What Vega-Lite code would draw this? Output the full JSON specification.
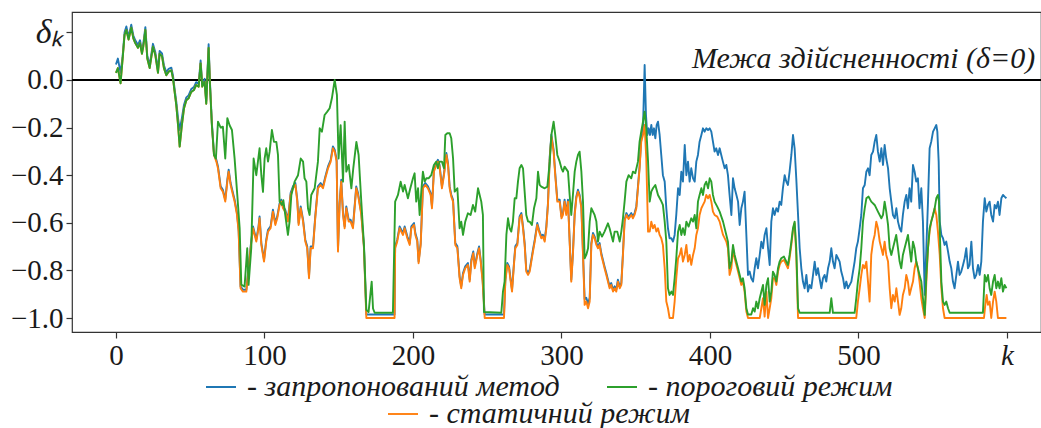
{
"$schema": "https://vega.github.io/schema/vega-lite/v6.json",
"width": 969, "height": 320,
"autosize": {"type": "none"},
"padding": {"left": 72, "top": 12, "right": 0, "bottom": 96},
"config": {
 "view": {"stroke": "#333", "strokeWidth": 1.2},
 "font": "Liberation Serif",
 "axis": {"grid": false, "domain": false, "tickColor": "#333", "tickSize": 6, "tickWidth": 1.2, "labelFont": "Liberation Serif", "labelFontSize": 29, "labelColor": "#1a1a1a", "title": null}
},
"datasets": {
"blue": [
{"k":0,"v":0.065},{"k":1.3,"v":0.09},{"k":3.1,"v":0.03},{"k":4.5,"v":0.1},{"k":5.8,"v":0.2},{"k":7,"v":0.225},{"k":8.5,"v":0.18},{"k":10.3,"v":0.232},{"k":11.7,"v":0.187},{"k":13,"v":0.167},{"k":14.8,"v":0.147},{"k":16.2,"v":0.167},{"k":17.5,"v":0.122},{"k":18.4,"v":0.152},{"k":19.8,"v":0.222},{"k":21.1,"v":0.102},{"k":22.7,"v":0.062},{"k":24.9,"v":0.152},{"k":26.5,"v":0.117},{"k":28.3,"v":0.042},{"k":29.4,"v":0.122},{"k":31,"v":0.112},{"k":32.3,"v":0.062},{"k":33.9,"v":0.032},{"k":35.5,"v":0.047},{"k":37.3,"v":0.052},{"k":38.4,"v":0.019},{"k":39.5,"v":-0.038},{"k":40.6,"v":-0.09},{"k":41.8,"v":-0.16},{"k":42.9,"v":-0.21},{"k":44.4,"v":-0.16},{"k":45.8,"v":-0.105},{"k":47.4,"v":-0.073},{"k":48.9,"v":-0.065},{"k":50.7,"v":-0.038},{"k":52.5,"v":-0.03},{"k":54,"v":-0.009},{"k":55.7,"v":-0.016},{"k":57,"v":0.082},{"k":58.1,"v":-0.016},{"k":59.7,"v":0.005},{"k":60.8,"v":-0.088},{"k":62.4,"v":0.15},{"k":63.3,"v":-0.008},
{"k":64.6,"v":-0.182},{"k":66,"v":-0.307},{"k":67.6,"v":-0.335},{"k":68.7,"v":-0.363},{"k":70.5,"v":-0.447},{"k":72,"v":-0.461},{"k":73.6,"v":-0.503},{"k":75,"v":-0.419},{"k":75.9,"v":-0.377},{"k":77.2,"v":-0.433},{"k":78.8,"v":-0.475},{"k":79.9,"v":-0.503},{"k":81.5,"v":-0.559},{"k":82.6,"v":-0.629},{"k":83.9,"v":-0.867},{"k":85.5,"v":-0.881},{"k":87.8,"v":-0.881},{"k":88.9,"v":-0.811},{"k":90.7,"v":-0.699},{"k":92.3,"v":-0.615},{"k":94.5,"v":-0.671},{"k":96,"v":-0.615},{"k":96.7,"v":-0.573},{"k":97.9,"v":-0.685},{"k":99.7,"v":-0.755},{"k":101.2,"v":-0.671},{"k":102.4,"v":-0.629},{"k":104.1,"v":-0.615},{"k":105.7,"v":-0.545},{"k":107.3,"v":-0.601},{"k":108.6,"v":-0.573},{"k":110.2,"v":-0.517},{"k":111.3,"v":-0.503},{"k":112.5,"v":-0.531},{"k":114,"v":-0.545},{"k":115.8,"v":-0.587},{"k":117.6,"v":-0.475},{"k":119.2,"v":-0.447},{"k":120.8,"v":-0.433},{"k":122.1,"v":-0.503},{"k":123,"v":-0.601},{"k":124.4,"v":-0.531},{"k":126,"v":-0.587},{"k":127.5,"v":-0.671},{"k":128.8,"v":-0.699},{"k":130,"v":-0.825},{"k":131.1,"v":-0.699},{"k":132.7,"v":-0.699},{"k":134.2,"v":-0.573},{"k":136,"v":-0.447},{"k":137.8,"v":-0.433},{"k":139.4,"v":-0.447},{"k":141,"v":-0.405},{"k":142.8,"v":-0.363},{"k":144.6,"v":-0.335},{"k":146.1,"v":-0.279},{"k":147.3,"v":-0.293},{"k":148.6,"v":-0.335},{"k":149.5,"v":-0.713},{"k":150.6,"v":-0.517},{"k":151.7,"v":-0.419},{"k":152.9,"v":-0.559},{"k":154,"v":-0.615},{"k":155.1,"v":-0.531},{"k":156.7,"v":-0.587},{"k":158,"v":-0.587},{"k":159.6,"v":-0.615},{"k":161.8,"v":-0.447},{"k":163,"v":-0.475},{"k":165.2,"v":-0.559},{"k":167,"v":-0.699},{"k":168.6,"v":-0.985},{"k":187.6,"v":-0.985},{"k":188,"v":-0.699},{"k":189.4,"v":-0.671},{"k":191,"v":-0.615},{"k":192.1,"v":-0.629},{"k":193.3,"v":-0.643},{"k":194.4,"v":-0.615},{"k":196.2,"v":-0.657},{"k":197.8,"v":-0.685},{"k":198.9,"v":-0.615},{"k":200.7,"v":-0.601},{"k":201.6,"v":-0.643},{"k":202.9,"v":-0.671},{"k":203.8,"v":-0.762},{"k":205.2,"v":-0.685},{"k":206.7,"v":-0.447},{"k":208.3,"v":-0.433},{"k":210.1,"v":-0.447},{"k":211.9,"v":-0.475},{"k":212.8,"v":-0.531},{"k":214.1,"v":-0.377},{"k":215.7,"v":-0.349},{"k":216.8,"v":-0.335},{"k":217.9,"v":-0.356},{"k":219.5,"v":-0.447},{"k":220.9,"v":-0.392},{"k":222.5,"v":-0.307},{"k":223.6,"v":-0.349},{"k":224.7,"v":-0.447},{"k":225.8,"v":-0.482},{"k":227,"v":-0.503},{"k":228.5,"v":-0.685},{"k":229.9,"v":-0.699},{"k":231.4,"v":-0.825},{"k":232.5,"v":-0.867},{"k":233.7,"v":-0.811},{"k":235.2,"v":-0.783},{"k":237,"v":-0.769},{"k":238.2,"v":-0.839},{"k":239.3,"v":-0.755},{"k":240.6,"v":-0.72},{"k":241.6,"v":-0.783},{"k":243.4,"v":-0.727},{"k":244.5,"v":-0.699},{"k":245.6,"v":-0.755},{"k":246.9,"v":-0.839},{"k":248.3,"v":-0.985},{"k":261.3,"v":-0.985},{"k":262.2,"v":-0.839},{"k":263.5,"v":-0.769},{"k":264.7,"v":-0.783},{"k":265.8,"v":-0.839},{"k":266.7,"v":-0.881},{"k":268,"v":-0.769},{"k":268.9,"v":-0.699},{"k":270.3,"v":-0.685},{"k":271.8,"v":-0.573},{"k":273,"v":-0.559},{"k":274.1,"v":-0.615},{"k":275.2,"v":-0.685},{"k":276.3,"v":-0.797},{"k":277.5,"v":-0.811},{"k":278.6,"v":-0.797},{"k":279.7,"v":-0.755},{"k":280.8,"v":-0.713},{"k":282,"v":-0.671},{"k":283.7,"v":-0.601},{"k":284.9,"v":-0.629},{"k":286.4,"v":-0.657},{"k":287.5,"v":-0.65},{"k":288.7,"v":-0.671},{"k":289.8,"v":-0.615},{"k":290.9,"v":-0.517},{"k":292.1,"v":-0.322},{"k":293.2,"v":-0.23},{"k":294.7,"v":-0.293},{"k":295.8,"v":-0.392},{"k":297.2,"v":-0.503},{"k":298.8,"v":-0.503},{"k":300,"v":-0.573},{"k":301,"v":-0.559},{"k":302.1,"v":-0.503},{"k":303.2,"v":-0.559},{"k":304.4,"v":-0.503},{"k":305.5,"v":-0.671},{"k":306.6,"v":-0.839},{"k":307.7,"v":-0.727},{"k":308.9,"v":-0.559},{"k":310,"v":-0.489},{"k":311.1,"v":-0.461},{"k":312.2,"v":-0.482},{"k":313.4,"v":-0.531},{"k":314.5,"v":-0.727},{"k":315.6,"v":-0.92},{"k":316.7,"v":-0.915},{"k":317.9,"v":-0.94},{"k":319,"v":-0.915},{"k":320.1,"v":-0.685},{"k":321.2,"v":-0.643},{"k":322.3,"v":-0.657},{"k":323.5,"v":-0.685},{"k":324.6,"v":-0.699},{"k":325.7,"v":-0.685},{"k":326.8,"v":-0.727},{"k":327.9,"v":-0.755},{"k":329,"v":-0.783},{"k":330.2,"v":-0.811},{"k":331.3,"v":-0.839},{"k":332.4,"v":-0.867},{"k":333.5,"v":-0.853},{"k":334.7,"v":-0.881},{"k":335.8,"v":-0.867},{"k":336.9,"v":-0.881},{"k":338,"v":-0.839},{"k":339.2,"v":-0.867},{"k":340.3,"v":-0.853},{"k":341.4,"v":-0.727},{"k":342.5,"v":-0.587},{"k":343.7,"v":-0.559},{"k":345.2,"v":-0.576},{"k":347,"v":-0.559},{"k":348.1,"v":-0.573},{"k":349.2,"v":-0.559},{"k":350.4,"v":-0.531},{"k":351.5,"v":-0.447},{"k":352.6,"v":-0.363},{"k":353.7,"v":-0.25},{"k":354.9,"v":-0.2},{"k":356,"v":0.063},
{"k":356.9,"v":-0.147},{"k":357.8,"v":-0.231},{"k":358.7,"v":-0.203},{"k":359.6,"v":-0.231},{"k":360.5,"v":-0.189},{"k":361.4,"v":-0.231},{"k":362.3,"v":-0.203},{"k":363.2,"v":-0.245},{"k":364.1,"v":-0.189},{"k":365,"v":-0.175},{"k":366.1,"v":-0.231},{"k":367.2,"v":-0.315},{"k":368.3,"v":-0.4},{"k":369.5,"v":-0.427},{"k":370.6,"v":-0.539},{"k":371.7,"v":-0.623},{"k":372.8,"v":-0.665},{"k":374,"v":-0.665},{"k":375.1,"v":-0.679},{"k":376.2,"v":-0.651},{"k":377.3,"v":-0.567},{"k":378.5,"v":-0.455},{"k":379.6,"v":-0.483},{"k":380.7,"v":-0.385},{"k":381.8,"v":-0.427},{"k":383,"v":-0.273},{"k":384.1,"v":-0.4},{"k":385.2,"v":-0.343},{"k":386.3,"v":-0.427},{"k":387.4,"v":-0.371},{"k":388.6,"v":-0.413},{"k":389.7,"v":-0.427},{"k":390.8,"v":-0.343},{"k":391.9,"v":-0.315},{"k":393,"v":-0.259},{"k":394.2,"v":-0.231},{"k":395.3,"v":-0.203},{"k":396.4,"v":-0.217},{"k":397.5,"v":-0.203},
{"k":398.7,"v":-0.21},{"k":399.8,"v":-0.203},{"k":400.9,"v":-0.217},{"k":402,"v":-0.259},{"k":403.1,"v":-0.301},{"k":404.2,"v":-0.287},{"k":405.4,"v":-0.315},{"k":406.5,"v":-0.287},{"k":407.6,"v":-0.315},{"k":408.7,"v":-0.343},{"k":409.9,"v":-0.371},{"k":411,"v":-0.357},{"k":412.1,"v":-0.4},{"k":413.2,"v":-0.483},{"k":414.4,"v":-0.567},{"k":415.5,"v":-0.413},{"k":416.6,"v":-0.455},{"k":417.8,"v":-0.483},{"k":418.9,"v":-0.511},{"k":420,"v":-0.609},{"k":421.1,"v":-0.539},{"k":422.2,"v":-0.511},{"k":423.3,"v":-0.469},{"k":424.5,"v":-0.651},{"k":425.6,"v":-0.819},{"k":426.7,"v":-0.805},{"k":427.8,"v":-0.833},{"k":429,"v":-0.847},{"k":430.1,"v":-0.791},{"k":431.2,"v":-0.749},{"k":432.3,"v":-0.791},{"k":433.5,"v":-0.735},{"k":434.6,"v":-0.679},{"k":435.7,"v":-0.707},{"k":436.8,"v":-0.651},{"k":438,"v":-0.623},{"k":439.1,"v":-0.707},{"k":440.2,"v":-0.777},{"k":441.3,"v":-0.595},{"k":442.4,"v":-0.539},{"k":443.5,"v":-0.567},{"k":444.7,"v":-0.539},{"k":445.8,"v":-0.553},{"k":446.9,"v":-0.511},{"k":448,"v":-0.525},{"k":449.1,"v":-0.455},{"k":450.3,"v":-0.4},{"k":451.4,"v":-0.427},{"k":452.5,"v":-0.441},{"k":453.6,"v":-0.385},{"k":454.8,"v":-0.315},{"k":455.9,"v":-0.231},{"k":457,"v":-0.287},{"k":458.1,"v":-0.413},{"k":459.3,"v":-0.567},{"k":460.4,"v":-0.707},{"k":461.5,"v":-0.791},{"k":462.6,"v":-0.847},{"k":463.7,"v":-0.875},{"k":464.9,"v":-0.819},{"k":466,"v":-0.889},{"k":467.1,"v":-0.861},{"k":468.2,"v":-0.875},{"k":469.4,"v":-0.819},{"k":470.5,"v":-0.763},{"k":471.6,"v":-0.819},{"k":472.7,"v":-0.791},{"k":473.8,"v":-0.833},{"k":475,"v":-0.875},{"k":476.1,"v":-0.833},{"k":477.2,"v":-0.819},{"k":478.3,"v":-0.847},{"k":479.5,"v":-0.791},{"k":480.6,"v":-0.763},{"k":481.7,"v":-0.707},{"k":482.8,"v":-0.763},{"k":483.9,"v":-0.791},{"k":485.1,"v":-0.735},{"k":486.2,"v":-0.749},{"k":487.3,"v":-0.763},{"k":488.4,"v":-0.805},{"k":489.6,"v":-0.833},{"k":490.7,"v":-0.875},{"k":491.8,"v":-0.847},{"k":492.9,"v":-0.875},{"k":494.1,"v":-0.861},{"k":495.2,"v":-0.847},{"k":496.3,"v":-0.805},{"k":497.4,"v":-0.763},{"k":498.5,"v":-0.707},{"k":499.6,"v":-0.679},
{"k":500.8,"v":-0.623},{"k":501.9,"v":-0.567},{"k":503,"v":-0.455},{"k":504.2,"v":-0.441},{"k":505.3,"v":-0.385},{"k":506.4,"v":-0.371},{"k":507.5,"v":-0.4},{"k":508.6,"v":-0.315},{"k":509.8,"v":-0.301},{"k":510.9,"v":-0.259},{"k":512,"v":-0.231},{"k":513.1,"v":-0.301},{"k":514.3,"v":-0.343},{"k":515.4,"v":-0.287},{"k":516.5,"v":-0.357},{"k":517.6,"v":-0.273},{"k":518.7,"v":-0.33},{"k":519.9,"v":-0.371},{"k":521,"v":-0.455},{"k":522.1,"v":-0.511},{"k":523.2,"v":-0.567},{"k":524.4,"v":-0.581},{"k":525.5,"v":-0.539},{"k":526.6,"v":-0.595},{"k":527.7,"v":-0.623},{"k":528.8,"v":-0.637},{"k":529.9,"v":-0.567},{"k":531.1,"v":-0.511},{"k":532.2,"v":-0.483},{"k":533.3,"v":-0.539},{"k":534.4,"v":-0.455},{"k":535.5,"v":-0.511},{"k":536.7,"v":-0.357},{"k":537.8,"v":-0.385},{"k":538.9,"v":-0.427},{"k":540,"v":-0.413},{"k":541.1,"v":-0.539},{"k":542.3,"v":-0.455},{"k":543.4,"v":-0.595},{"k":544.6,"v":-0.903},{"k":545.7,"v":-0.707},{"k":546.8,"v":-0.511},{"k":547.9,"v":-0.287},{"k":549,"v":-0.259},{"k":550.2,"v":-0.217},{"k":551.3,"v":-0.203},{"k":552.4,"v":-0.189},{"k":553.1,"v":-0.217},{"k":554,"v":-0.343},{"k":554.7,"v":-0.595},{"k":555.8,"v":-0.651},{"k":556.9,"v":-0.665},{"k":558,"v":-0.693},{"k":559.1,"v":-0.679},{"k":560.3,"v":-0.721},{"k":561.4,"v":-0.763},{"k":562.5,"v":-0.791},{"k":563.6,"v":-0.847},{"k":564.7,"v":-0.875},{"k":565.9,"v":-0.819},{"k":567,"v":-0.763},{"k":568.1,"v":-0.819},{"k":569.2,"v":-0.805},{"k":570.4,"v":-0.777},{"k":571.5,"v":-0.749},{"k":572.6,"v":-0.707},{"k":573.7,"v":-0.791},{"k":574.8,"v":-0.777},{"k":576,"v":-0.679},{"k":577.1,"v":-0.791},{"k":578.2,"v":-0.833},{"k":579.3,"v":-0.819},{"k":580.5,"v":-0.777},{"k":581.6,"v":-0.819},{"k":582.7,"v":-0.763},{"k":583.8,"v":-0.595},{"k":585,"v":-0.497},{"k":586.1,"v":-0.553},{"k":587.2,"v":-0.525},{"k":588.3,"v":-0.511},{"k":589.4,"v":-0.567},{"k":590.6,"v":-0.595},{"k":591.7,"v":-0.525},{"k":592.8,"v":-0.539},{"k":593.9,"v":-0.511},{"k":595,"v":-0.567},{"k":596.2,"v":-0.497},{"k":597.3,"v":-0.483},{"k":598.4,"v":-0.49},{"k":599.6,"v":-0.497}
],
"orange": [
{"k":0,"v":0.03},{"k":1.3,"v":0.05},{"k":3.1,"v":-0.014},{"k":4.5,"v":0.09},{"k":5.8,"v":0.19},{"k":7,"v":0.21},{"k":8.5,"v":0.17},{"k":10.3,"v":0.22},{"k":11.7,"v":0.175},{"k":13,"v":0.155},{"k":14.8,"v":0.135},{"k":16.2,"v":0.155},{"k":17.5,"v":0.11},{"k":18.4,"v":0.14},{"k":19.8,"v":0.21},{"k":21.1,"v":0.09},{"k":22.7,"v":0.05},{"k":24.9,"v":0.14},{"k":26.5,"v":0.105},{"k":28.3,"v":0.03},{"k":29.4,"v":0.11},{"k":31,"v":0.1},{"k":32.3,"v":0.05},{"k":33.9,"v":0.02},{"k":35.5,"v":0.035},{"k":37.3,"v":0.04},{"k":38.4,"v":0.007},{"k":39.5,"v":-0.05},{"k":40.6,"v":-0.105},{"k":41.8,"v":-0.19},{"k":42.9,"v":-0.28},{"k":44.4,"v":-0.19},{"k":45.8,"v":-0.12},{"k":47.4,"v":-0.085},{"k":48.9,"v":-0.077},{"k":50.7,"v":-0.05},{"k":52.5,"v":-0.042},{"k":54,"v":-0.021},{"k":55.7,"v":-0.028},{"k":57,"v":0.07},{"k":58.1,"v":-0.028},{"k":59.7,"v":-0.007},{"k":60.8,"v":-0.1},{"k":62.4,"v":0.135},{"k":63.3,"v":-0.02},
{"k":64.6,"v":-0.19},{"k":66,"v":-0.315},{"k":67.6,"v":-0.343},{"k":68.7,"v":-0.371},{"k":70.5,"v":-0.455},{"k":72,"v":-0.469},{"k":73.6,"v":-0.511},{"k":75,"v":-0.427},{"k":75.9,"v":-0.385},{"k":77.2,"v":-0.441},{"k":78.8,"v":-0.483},{"k":79.9,"v":-0.511},{"k":81.5,"v":-0.567},{"k":82.6,"v":-0.637},{"k":83.9,"v":-0.875},{"k":85.5,"v":-0.889},{"k":87.8,"v":-0.889},{"k":88.9,"v":-0.819},{"k":90.7,"v":-0.707},{"k":92.3,"v":-0.623},{"k":94.5,"v":-0.679},{"k":96,"v":-0.623},{"k":96.7,"v":-0.581},{"k":97.9,"v":-0.693},{"k":99.7,"v":-0.763},{"k":101.2,"v":-0.679},{"k":102.4,"v":-0.637},{"k":104.1,"v":-0.623},{"k":105.7,"v":-0.553},{"k":107.3,"v":-0.609},{"k":108.6,"v":-0.581},{"k":110.2,"v":-0.525},{"k":111.3,"v":-0.511},{"k":112.5,"v":-0.539},{"k":114,"v":-0.553},{"k":115.8,"v":-0.595},{"k":117.6,"v":-0.483},{"k":119.2,"v":-0.455},{"k":120.8,"v":-0.441},{"k":122.1,"v":-0.511},{"k":123,"v":-0.609},{"k":124.4,"v":-0.539},{"k":126,"v":-0.595},{"k":127.5,"v":-0.679},{"k":128.8,"v":-0.707},{"k":130,"v":-0.833},{"k":131.1,"v":-0.707},{"k":132.7,"v":-0.707},{"k":134.2,"v":-0.581},{"k":136,"v":-0.455},{"k":137.8,"v":-0.441},{"k":139.4,"v":-0.455},{"k":141,"v":-0.413},{"k":142.8,"v":-0.371},{"k":144.6,"v":-0.343},{"k":146.1,"v":-0.287},{"k":147.3,"v":-0.301},{"k":148.6,"v":-0.343},{"k":149.5,"v":-0.721},{"k":150.6,"v":-0.525},{"k":151.7,"v":-0.427},{"k":152.9,"v":-0.567},{"k":154,"v":-0.623},{"k":155.1,"v":-0.539},{"k":156.7,"v":-0.595},{"k":158,"v":-0.595},{"k":159.6,"v":-0.623},{"k":161.8,"v":-0.455},{"k":163,"v":-0.483},{"k":165.2,"v":-0.567},{"k":167,"v":-0.707},{"k":168.6,"v":-1.0},{"k":187.6,"v":-1.0},{"k":188,"v":-0.707},{"k":189.4,"v":-0.679},{"k":191,"v":-0.623},{"k":192.1,"v":-0.637},{"k":193.3,"v":-0.651},{"k":194.4,"v":-0.623},{"k":196.2,"v":-0.665},{"k":197.8,"v":-0.693},{"k":198.9,"v":-0.623},{"k":200.7,"v":-0.609},{"k":201.6,"v":-0.651},{"k":202.9,"v":-0.679},{"k":203.8,"v":-0.77},{"k":205.2,"v":-0.693},{"k":206.7,"v":-0.455},{"k":208.3,"v":-0.441},{"k":210.1,"v":-0.455},{"k":211.9,"v":-0.483},{"k":212.8,"v":-0.539},{"k":214.1,"v":-0.385},{"k":215.7,"v":-0.357},{"k":216.8,"v":-0.343},{"k":217.9,"v":-0.364},{"k":219.5,"v":-0.455},{"k":220.9,"v":-0.4},{"k":222.5,"v":-0.315},{"k":223.6,"v":-0.357},{"k":224.7,"v":-0.455},{"k":225.8,"v":-0.49},{"k":227,"v":-0.511},{"k":228.5,"v":-0.693},{"k":229.9,"v":-0.707},{"k":231.4,"v":-0.833},{"k":232.5,"v":-0.875},{"k":233.7,"v":-0.819},{"k":235.2,"v":-0.791},{"k":237,"v":-0.777},{"k":238.2,"v":-0.847},{"k":239.3,"v":-0.763},{"k":240.6,"v":-0.728},{"k":241.6,"v":-0.791},{"k":243.4,"v":-0.735},{"k":244.5,"v":-0.707},{"k":245.6,"v":-0.763},{"k":246.9,"v":-0.847},{"k":248.3,"v":-1.0},{"k":261.3,"v":-1.0},{"k":262.2,"v":-0.847},{"k":263.5,"v":-0.777},{"k":264.7,"v":-0.791},{"k":265.8,"v":-0.847},{"k":266.7,"v":-0.889},{"k":268,"v":-0.777},{"k":268.9,"v":-0.707},{"k":270.3,"v":-0.693},{"k":271.8,"v":-0.581},{"k":273,"v":-0.567},{"k":274.1,"v":-0.623},{"k":275.2,"v":-0.693},{"k":276.3,"v":-0.805},{"k":277.5,"v":-0.819},{"k":278.6,"v":-0.805},{"k":279.7,"v":-0.763},{"k":280.8,"v":-0.721},{"k":282,"v":-0.679},{"k":283.7,"v":-0.609},{"k":284.9,"v":-0.637},{"k":286.4,"v":-0.665},{"k":287.5,"v":-0.658},{"k":288.7,"v":-0.679},{"k":289.8,"v":-0.623},{"k":290.9,"v":-0.525},{"k":292.1,"v":-0.33},{"k":293.2,"v":-0.238},{"k":294.7,"v":-0.301},{"k":295.8,"v":-0.4},{"k":297.2,"v":-0.511},{"k":298.8,"v":-0.511},{"k":300,"v":-0.581},{"k":301,"v":-0.567},{"k":302.1,"v":-0.511},{"k":303.2,"v":-0.567},{"k":304.4,"v":-0.511},{"k":305.5,"v":-0.679},{"k":306.6,"v":-0.847},{"k":307.7,"v":-0.735},{"k":308.9,"v":-0.567},{"k":310,"v":-0.497},{"k":311.1,"v":-0.469},{"k":312.2,"v":-0.49},{"k":313.4,"v":-0.539},{"k":314.5,"v":-0.735},{"k":315.6,"v":-0.945},{"k":316.7,"v":-0.931},{"k":317.9,"v":-0.959},{"k":319,"v":-0.931},{"k":320.1,"v":-0.693},{"k":321.2,"v":-0.651},{"k":322.3,"v":-0.665},{"k":323.5,"v":-0.693},{"k":324.6,"v":-0.707},{"k":325.7,"v":-0.693},{"k":326.8,"v":-0.735},{"k":327.9,"v":-0.763},{"k":329,"v":-0.791},{"k":330.2,"v":-0.819},{"k":331.3,"v":-0.847},{"k":332.4,"v":-0.875},{"k":333.5,"v":-0.861},{"k":334.7,"v":-0.889},{"k":335.8,"v":-0.875},{"k":336.9,"v":-0.889},{"k":338,"v":-0.847},{"k":339.2,"v":-0.875},{"k":340.3,"v":-0.861},{"k":341.4,"v":-0.735},{"k":342.5,"v":-0.595},{"k":343.7,"v":-0.567},{"k":345.2,"v":-0.584},{"k":347,"v":-0.567},{"k":348.1,"v":-0.581},{"k":349.2,"v":-0.567},{"k":350.4,"v":-0.539},{"k":351.5,"v":-0.455},{"k":352.6,"v":-0.371},{"k":353.7,"v":-0.259},{"k":354.9,"v":-0.231},{"k":356,"v":-0.189},{"k":357.1,"v":-0.33},{"k":358.3,"v":-0.637},{"k":359.4,"v":-0.637},{"k":360.5,"v":-0.595},{"k":361.6,"v":-0.623},{"k":362.7,"v":-0.609},{"k":363.9,"v":-0.637},{"k":365,"v":-0.623},{"k":366.1,"v":-0.651},{"k":367.2,"v":-0.665},{"k":368.3,"v":-0.693},{"k":369.5,"v":-0.791},{"k":370.6,"v":-0.931},{"k":371.7,"v":-0.959},{"k":372.8,"v":-1.0},{"k":375.1,"v":-1.0},{"k":376.2,"v":-0.931},{"k":377.3,"v":-0.833},{"k":378.5,"v":-0.749},{"k":379.6,"v":-0.735},{"k":380.7,"v":-0.707},{"k":381.8,"v":-0.763},{"k":383,"v":-0.735},{"k":384.1,"v":-0.693},{"k":385.2,"v":-0.763},{"k":386.3,"v":-0.735},{"k":387.4,"v":-0.777},{"k":388.6,"v":-0.735},{"k":389.7,"v":-0.707},{"k":390.8,"v":-0.651},{"k":391.9,"v":-0.623},{"k":393,"v":-0.567},{"k":394.2,"v":-0.539},{"k":395.3,"v":-0.525},{"k":396.4,"v":-0.511},{"k":397.5,"v":-0.483},{"k":398.7,"v":-0.497},{"k":399.8,"v":-0.483},{"k":400.9,"v":-0.511},{"k":402,"v":-0.553},{"k":403.1,"v":-0.567},{"k":404.9,"v":-0.574},{"k":406.5,"v":-0.595},{"k":408.8,"v":-0.651},{"k":411,"v":-0.679},{"k":412.1,"v":-0.707},{"k":413.2,"v":-0.819},{"k":414.4,"v":-0.791},{"k":415.5,"v":-0.707},{"k":416.6,"v":-0.749},{"k":418.9,"v":-0.805},{"k":421.1,"v":-0.861},{"k":422.2,"v":-0.847},{"k":423.3,"v":-0.889},{"k":424.5,"v":-0.973},{"k":425.6,"v":-1.0},{"k":433.5,"v":-1.0},{"k":434.6,"v":-0.959},{"k":435.7,"v":-0.917},{"k":436.8,"v":-0.994},{"k":438,"v":-0.889},{"k":439.1,"v":-1.0},{"k":440.2,"v":-0.959},{"k":441.3,"v":-0.917},{"k":442.4,"v":-0.833},{"k":443.5,"v":-0.833},{"k":444.7,"v":-0.861},{"k":445.8,"v":-0.805},{"k":446.9,"v":-0.777},{"k":448,"v":-0.763},{"k":449.8,"v":-0.756},{"k":451.4,"v":-0.777},{"k":452.5,"v":-0.791},{"k":453.6,"v":-0.749},{"k":454.8,"v":-0.693},{"k":455.9,"v":-0.63},{"k":457,"v":-0.602},{"k":458.1,"v":-0.735},{"k":459.3,"v":-1.0},{"k":498.5,"v":-1.0},{"k":499.6,"v":-0.931},{"k":500.8,"v":-0.875},{"k":501.9,"v":-0.819},{"k":503,"v":-0.777},{"k":504.2,"v":-0.791},{"k":505.3,"v":-0.763},{"k":506.4,"v":-0.847},{"k":507.5,"v":-0.931},{"k":508.6,"v":-0.735},{"k":509.8,"v":-0.679},{"k":510.9,"v":-0.651},{"k":512,"v":-0.595},{"k":513.1,"v":-0.623},{"k":514.3,"v":-0.679},{"k":515.4,"v":-0.707},{"k":516.5,"v":-0.735},{"k":517.6,"v":-0.679},{"k":518.7,"v":-0.735},{"k":519.9,"v":-0.763},{"k":521,"v":-0.875},{"k":522.1,"v":-0.959},{"k":523.2,"v":-0.903},{"k":524.4,"v":-0.931},{"k":525.5,"v":-0.875},{"k":526.6,"v":-0.931},{"k":527.7,"v":-0.987},{"k":528.8,"v":-0.959},{"k":529.9,"v":-0.903},{"k":531.1,"v":-0.875},{"k":532.2,"v":-0.819},{"k":533.3,"v":-0.847},{"k":534.4,"v":-0.903},{"k":535.5,"v":-0.875},{"k":536.7,"v":-0.847},{"k":537.8,"v":-0.791},{"k":538.9,"v":-0.763},{"k":540,"v":-0.791},{"k":541.1,"v":-0.847},{"k":542.3,"v":-0.917},{"k":543.4,"v":-0.959},{"k":544.6,"v":-1.0},{"k":545.7,"v":-0.847},{"k":546.8,"v":-0.707},{"k":547.9,"v":-0.637},{"k":549,"v":-0.595},{"k":550.2,"v":-0.567},{"k":551.3,"v":-0.539},{"k":552.4,"v":-0.567},{"k":553.5,"v":-0.637},{"k":554.7,"v":-0.735},{"k":555.8,"v":-0.875},{"k":556.9,"v":-0.959},{"k":558,"v":-1.0},{"k":584.5,"v":-1.0},{"k":585.4,"v":-0.945},{"k":586.3,"v":-0.903},{"k":587.2,"v":-0.945},{"k":588.3,"v":-0.931},{"k":589.4,"v":-1.0},{"k":590.6,"v":-0.931},{"k":591.7,"v":-0.889},{"k":592.8,"v":-0.931},{"k":593.9,"v":-1.0},{"k":599.6,"v":-1.0}
],
"green": [
{"k":0,"v":0.03},{"k":1.3,"v":0.05},{"k":3.1,"v":-0.014},{"k":4.5,"v":0.09},{"k":5.8,"v":0.19},{"k":7,"v":0.21},{"k":8.5,"v":0.17},{"k":10.3,"v":0.22},{"k":11.7,"v":0.175},{"k":13,"v":0.155},{"k":14.8,"v":0.135},{"k":16.2,"v":0.155},{"k":17.5,"v":0.11},{"k":18.4,"v":0.14},{"k":19.8,"v":0.21},{"k":21.1,"v":0.09},{"k":22.7,"v":0.05},{"k":24.9,"v":0.14},{"k":26.5,"v":0.105},{"k":28.3,"v":0.03},{"k":29.4,"v":0.11},{"k":31,"v":0.1},{"k":32.3,"v":0.05},{"k":33.9,"v":0.02},{"k":35.5,"v":0.035},{"k":37.3,"v":0.04},{"k":38.4,"v":0.007},{"k":39.5,"v":-0.05},{"k":40.6,"v":-0.105},{"k":41.8,"v":-0.19},{"k":42.9,"v":-0.28},{"k":44.4,"v":-0.19},{"k":45.8,"v":-0.12},{"k":47.4,"v":-0.085},{"k":48.9,"v":-0.077},{"k":50.7,"v":-0.05},{"k":52.5,"v":-0.042},{"k":54,"v":-0.021},{"k":55.7,"v":-0.028},{"k":57,"v":0.07},{"k":58.1,"v":-0.028},{"k":59.7,"v":-0.007},{"k":60.8,"v":-0.1},{"k":62.4,"v":0.135},{"k":63.3,"v":-0.02},{"k":64.6,"v":-0.19},{"k":66,"v":-0.315},{"k":67.3,"v":-0.33},{"k":68.7,"v":-0.175},{"k":70.5,"v":-0.2},{"k":72,"v":-0.196},{"k":73.6,"v":-0.33},{"k":75,"v":-0.16},{"k":76.5,"v":-0.19},{"k":78.1,"v":-0.21},{"k":79.9,"v":-0.33},{"k":81.7,"v":-0.483},{"k":83.3,"v":-0.623},{"k":84.4,"v":-0.86},{"k":86.6,"v":-0.868},{"k":88.4,"v":-0.707},{"k":89.3,"v":-0.861},{"k":91.1,"v":-0.707},{"k":92.7,"v":-0.33},{"k":94.5,"v":-0.4},{"k":95.6,"v":-0.343},{"k":96.7,"v":-0.287},{"k":97.9,"v":-0.4},{"k":99,"v":-0.47},{"k":100.1,"v":-0.33},{"k":101.2,"v":-0.287},{"k":102.4,"v":-0.343},{"k":103.5,"v":-0.3},{"k":105,"v":-0.21},{"k":106.4,"v":-0.26},{"k":108,"v":-0.26},{"k":109.1,"v":-0.315},{"k":110.2,"v":-0.51},{"k":111.8,"v":-0.525},{"k":112.7,"v":-0.505},{"k":114,"v":-0.567},{"k":115.8,"v":-0.651},{"k":116.9,"v":-0.595},{"k":118.1,"v":-0.483},{"k":120.3,"v":-0.427},{"k":122.6,"v":-0.4},{"k":124.4,"v":-0.33},{"k":126,"v":-0.343},{"k":127,"v":-0.413},{"k":128.2,"v":-0.427},{"k":129.3,"v":-0.539},{"k":130.4,"v":-0.567},{"k":131.5,"v":-0.483},{"k":133.8,"v":-0.455},{"k":136,"v":-0.343},{"k":137.2,"v":-0.203},{"k":138.7,"v":-0.217},{"k":140.5,"v":-0.147},{"k":142.3,"v":-0.133},{"k":143.9,"v":-0.119},{"k":145.4,"v":-0.077},{"k":147.3,"v":0},{"k":148.8,"v":-0.063},{"k":149.9,"v":-0.33},{"k":151.3,"v":-0.19},{"k":152.9,"v":-0.427},{"k":154,"v":-0.175},{"k":155.1,"v":-0.385},{"k":156.7,"v":-0.357},{"k":158.5,"v":-0.455},{"k":159.8,"v":-0.371},{"k":161.9,"v":-0.26},{"k":163.4,"v":-0.315},{"k":165.2,"v":-0.511},{"k":167,"v":-0.693},{"k":168.6,"v":-0.966},{"k":170.1,"v":-0.975},{"k":171.5,"v":-0.889},{"k":172.2,"v":-0.847},{"k":173.1,"v":-0.96},{"k":174.2,"v":-0.978},{"k":186.5,"v":-0.978},{"k":188,"v":-0.511},{"k":189.9,"v":-0.483},{"k":191.7,"v":-0.427},{"k":193.3,"v":-0.469},{"k":194.4,"v":-0.441},{"k":196.6,"v":-0.497},{"k":198,"v":-0.46},{"k":200,"v":-0.413},{"k":201.1,"v":-0.392},{"k":202.2,"v":-0.511},{"k":203.4,"v":-0.455},{"k":204.5,"v":-0.567},{"k":205.6,"v":-0.469},{"k":206.7,"v":-0.385},{"k":207.9,"v":-0.427},{"k":209,"v":-0.413},{"k":210.5,"v":-0.413},{"k":212.3,"v":-0.4},{"k":214.1,"v":-0.357},{"k":215.7,"v":-0.343},{"k":216.8,"v":-0.371},{"k":217.9,"v":-0.343},{"k":219.5,"v":-0.343},{"k":220.9,"v":-0.371},{"k":221.8,"v":-0.231},{"k":223.1,"v":-0.224},{"k":224.7,"v":-0.224},{"k":225.8,"v":-0.245},{"k":227,"v":-0.33},{"k":228.1,"v":-0.469},{"k":229.9,"v":-0.455},{"k":231.4,"v":-0.623},{"k":232.5,"v":-0.595},{"k":233.7,"v":-0.651},{"k":235.2,"v":-0.595},{"k":237,"v":-0.56},{"k":238.8,"v":-0.567},{"k":240.4,"v":-0.525},{"k":241.9,"v":-0.553},{"k":243.8,"v":-0.455},{"k":244.9,"v":-0.483},{"k":246,"v":-0.511},{"k":247.1,"v":-0.567},{"k":247.8,"v":-0.975},{"k":259.5,"v":-0.978},{"k":260.6,"v":-0.889},{"k":261.7,"v":-0.847},{"k":262.9,"v":-0.651},{"k":264,"v":-0.581},{"k":265.1,"v":-0.623},{"k":266.2,"v":-0.637},{"k":267.3,"v":-0.595},{"k":268.5,"v":-0.497},{"k":269.6,"v":-0.497},{"k":270.7,"v":-0.427},{"k":271.8,"v":-0.371},{"k":273,"v":-0.357},{"k":274.1,"v":-0.371},{"k":275.2,"v":-0.469},{"k":276.3,"v":-0.567},{"k":277.5,"v":-0.595},{"k":278.6,"v":-0.595},{"k":280.1,"v":-0.609},{"k":281.5,"v":-0.539},{"k":283.1,"v":-0.497},{"k":284.2,"v":-0.385},{"k":285.3,"v":-0.441},{"k":286.4,"v":-0.448},{"k":288.7,"v":-0.455},{"k":290.5,"v":-0.448},{"k":292.1,"v":-0.343},{"k":293.2,"v":-0.231},{"k":294.7,"v":-0.175},{"k":295.8,"v":-0.231},{"k":297.2,"v":-0.315},{"k":298.8,"v":-0.343},{"k":300,"v":-0.371},{"k":301,"v":-0.385},{"k":302.1,"v":-0.364},{"k":304.4,"v":-0.385},{"k":305.5,"v":-0.483},{"k":306.6,"v":-0.567},{"k":307.7,"v":-0.483},{"k":308.9,"v":-0.385},{"k":310,"v":-0.343},{"k":311.1,"v":-0.315},{"k":312.2,"v":-0.301},{"k":313.4,"v":-0.385},{"k":314.5,"v":-0.511},{"k":315.6,"v":-0.749},{"k":316.7,"v":-0.735},{"k":317.9,"v":-0.707},{"k":319,"v":-0.595},{"k":320.1,"v":-0.539},{"k":322.3,"v":-0.567},{"k":323.5,"v":-0.595},{"k":324.6,"v":-0.679},{"k":325.7,"v":-0.637},{"k":327.3,"v":-0.658},{"k":329,"v":-0.637},{"k":331.3,"v":-0.602},{"k":332.4,"v":-0.623},{"k":334.7,"v":-0.679},{"k":335.8,"v":-0.637},{"k":337.6,"v":-0.637},{"k":339.2,"v":-0.679},{"k":340.3,"v":-0.637},{"k":341.4,"v":-0.581},{"k":342.5,"v":-0.511},{"k":343.7,"v":-0.427},{"k":345.2,"v":-0.4},{"k":347,"v":-0.413},{"k":348.1,"v":-0.385},{"k":349.7,"v":-0.392},{"k":351.5,"v":-0.343},{"k":352.6,"v":-0.259},{"k":353.7,"v":-0.217},{"k":354.9,"v":-0.175},{"k":356,"v":-0.133},{"k":357.1,"v":-0.203},{"k":358.3,"v":-0.343},{"k":359.4,"v":-0.511},{"k":360.5,"v":-0.469},{"k":361.6,"v":-0.455},{"k":363.2,"v":-0.441},{"k":365,"v":-0.483},{"k":366.8,"v":-0.504},{"k":368.3,"v":-0.525},{"k":369.5,"v":-0.595},{"k":370.6,"v":-0.679},{"k":371.7,"v":-0.875},{"k":372.8,"v":-0.903},{"k":374,"v":-0.889},{"k":375.1,"v":-0.903},{"k":376.2,"v":-0.833},{"k":377.3,"v":-0.749},{"k":378.5,"v":-0.637},{"k":379.6,"v":-0.609},{"k":380.7,"v":-0.651},{"k":381.8,"v":-0.623},{"k":383,"v":-0.651},{"k":384.1,"v":-0.595},{"k":385.6,"v":-0.616},{"k":387.4,"v":-0.581},{"k":388.6,"v":-0.595},{"k":389.7,"v":-0.567},{"k":390.8,"v":-0.623},{"k":391.9,"v":-0.511},{"k":393,"v":-0.483},{"k":394.2,"v":-0.455},{"k":395.3,"v":-0.483},{"k":396.4,"v":-0.441},{"k":397.5,"v":-0.427},{"k":398.7,"v":-0.455},{"k":399.8,"v":-0.413},{"k":400.9,"v":-0.427},{"k":402,"v":-0.483},{"k":403.1,"v":-0.511},{"k":404.9,"v":-0.532},{"k":406.5,"v":-0.553},{"k":408.8,"v":-0.595},{"k":411,"v":-0.651},{"k":412.1,"v":-0.679},{"k":413.2,"v":-0.791},{"k":414.4,"v":-0.763},{"k":415.5,"v":-0.693},{"k":416.6,"v":-0.735},{"k":418.9,"v":-0.791},{"k":421.1,"v":-0.847},{"k":422.2,"v":-0.833},{"k":423.3,"v":-0.875},{"k":424.5,"v":-0.959},{"k":425.6,"v":-0.985},{"k":427.8,"v":-0.985},{"k":429,"v":-0.959},{"k":430.1,"v":-0.973},{"k":431.2,"v":-0.931},{"k":432.3,"v":-0.959},{"k":433.5,"v":-0.917},{"k":434.6,"v":-0.889},{"k":435.7,"v":-0.861},{"k":436.8,"v":-0.945},{"k":438,"v":-0.861},{"k":439.1,"v":-0.833},{"k":440.2,"v":-0.931},{"k":441.3,"v":-0.889},{"k":442.4,"v":-0.805},{"k":443.5,"v":-0.819},{"k":444.7,"v":-0.847},{"k":445.8,"v":-0.791},{"k":446.9,"v":-0.763},{"k":448,"v":-0.749},{"k":449.8,"v":-0.742},{"k":451.4,"v":-0.763},{"k":452.5,"v":-0.777},{"k":453.6,"v":-0.735},{"k":454.8,"v":-0.679},{"k":455.9,"v":-0.623},{"k":457,"v":-0.595},{"k":458.1,"v":-0.707},{"k":459.3,"v":-0.959},{"k":460.4,"v":-0.978},{"k":480.6,"v":-0.978},{"k":481.7,"v":-0.917},{"k":482.8,"v":-0.978},{"k":497.4,"v":-0.978},{"k":498.5,"v":-0.917},{"k":499.6,"v":-0.847},{"k":500.8,"v":-0.791},{"k":501.9,"v":-0.707},{"k":503,"v":-0.595},{"k":504.2,"v":-0.539},{"k":505.3,"v":-0.497},{"k":506.8,"v":-0.49},{"k":508.6,"v":-0.511},{"k":510.9,"v":-0.525},{"k":513.1,"v":-0.553},{"k":515.4,"v":-0.581},{"k":516.5,"v":-0.567},{"k":517.6,"v":-0.511},{"k":518.7,"v":-0.553},{"k":519.9,"v":-0.609},{"k":521,"v":-0.707},{"k":522.1,"v":-0.735},{"k":523.2,"v":-0.707},{"k":525.4,"v":-0.651},{"k":526.6,"v":-0.707},{"k":527.7,"v":-0.763},{"k":528.8,"v":-0.791},{"k":529.9,"v":-0.735},{"k":532.2,"v":-0.679},{"k":533.3,"v":-0.651},{"k":534.4,"v":-0.707},{"k":535.5,"v":-0.763},{"k":536.7,"v":-0.679},{"k":537.8,"v":-0.707},{"k":538.9,"v":-0.763},{"k":541.1,"v":-0.819},{"k":542.3,"v":-0.847},{"k":543.4,"v":-0.917},{"k":544.6,"v":-0.987},{"k":545.7,"v":-0.819},{"k":546.8,"v":-0.707},{"k":547.9,"v":-0.623},{"k":549,"v":-0.595},{"k":550.2,"v":-0.567},{"k":551.3,"v":-0.539},{"k":552.4,"v":-0.497},{"k":553.5,"v":-0.483},{"k":554.2,"v":-0.511},{"k":555.1,"v":-0.707},{"k":555.8,"v":-0.847},{"k":556.9,"v":-0.931},{"k":558,"v":-0.945},{"k":559.1,"v":-0.931},{"k":560.3,"v":-0.959},{"k":561.4,"v":-0.978},{"k":583.8,"v":-0.978},{"k":585,"v":-0.819},{"k":586.1,"v":-0.847},{"k":587.2,"v":-0.819},{"k":588.3,"v":-0.875},{"k":589.4,"v":-0.903},{"k":590.6,"v":-0.847},{"k":591.7,"v":-0.819},{"k":592.8,"v":-0.875},{"k":593.9,"v":-0.847},{"k":595,"v":-0.875},{"k":596.2,"v":-0.833},{"k":597.3,"v":-0.889},{"k":598.4,"v":-0.861},{"k":599.6,"v":-0.875}
],
"zero": [{"v": 0}],
"note": [{"k": 619, "v": 0.05, "t": "Межа здійсненності (δ=0)"}]
},
"layer": [
{"data": {"name": "zero"}, "mark": {"type": "rule", "color": "#000", "strokeWidth": 2}, "encoding": {"y": {"field": "v", "type": "quantitative", "scale": {"domain": [-1.0588, 0.2857], "nice": false, "zero": false}}}},
{"data": {"name": "blue"}, "mark": {"type": "line", "strokeWidth": 1.9, "strokeJoin": "round"},
 "encoding": {
  "x": {"field": "k", "type": "quantitative", "scale": {"domain": [-29.6, 622.9], "nice": false, "zero": false},
        "axis": {"values": [0,100,200,300,400,500,600], "format": "d", "labelExpr": "datum.value == 600 ? 'k' : datum.label", "labelFontStyle": {"condition": {"test": "datum.value == 600", "value": "italic"}, "value": "normal"}, "labelPadding": 3, "labelFlush": false}},
  "y": {"field": "v", "type": "quantitative", "scale": {"domain": [-1.0588, 0.2857], "nice": false, "zero": false},
        "axis": {"values": [-1,-0.8,-0.6,-0.4,-0.2,0,0.2], "format": ".1f", "labelExpr": "abs(datum.value - 0.2) < 0.01 ? 'δₖ' : datum.label", "labelFontStyle": {"condition": {"test": "abs(datum.value - 0.2) < 0.01", "value": "italic"}, "value": "normal"}, "labelFontSize": {"condition": {"test": "abs(datum.value - 0.2) < 0.01", "value": 34}, "value": 29}, "labelPadding": 3}},
  "color": {"datum": "b", "type": "nominal", "scale": {"domain": ["b", "g"], "range": ["#1f77b4", "#2ca02c"]},
            "legend": {"orient": "none", "legendX": 133, "legendY": 359, "direction": "horizontal", "title": null, "symbolType": "stroke", "symbolSize": 900, "symbolStrokeWidth": 2, "labelExpr": "datum.value == 'b' ? '- запропонований метод' : '- пороговий режим'", "labelFont": "Liberation Serif", "labelFontStyle": "italic", "labelFontSize": 30, "labelColor": "#1a1a1a", "labelLimit": 600, "labelOffset": 10, "columnPadding": 43, "padding": 0}}
 }},
{"data": {"name": "orange"}, "mark": {"type": "line", "color": "#ff7f0e", "strokeJoin": "round"},
 "encoding": {
  "x": {"field": "k", "type": "quantitative"},
  "y": {"field": "v", "type": "quantitative"},
  "strokeWidth": {"datum": "o", "type": "nominal", "scale": {"domain": ["o"], "range": [1.9, 1.9]},
            "legend": {"orient": "none", "legendX": 315, "legendY": 386, "title": null, "symbolType": "stroke", "symbolSize": 900, "symbolStrokeColor": "#ff7f0e", "labelExpr": "'- статичний режим'", "labelFont": "Liberation Serif", "labelFontStyle": "italic", "labelFontSize": 30, "labelColor": "#1a1a1a", "labelLimit": 600, "labelOffset": 10, "padding": 0}}
 }},
{"data": {"name": "green"}, "mark": {"type": "line", "strokeWidth": 1.9, "strokeJoin": "round"},
 "encoding": {
  "x": {"field": "k", "type": "quantitative"},
  "y": {"field": "v", "type": "quantitative"},
  "color": {"datum": "g", "type": "nominal"}
 }},
{"data": {"name": "note"}, "mark": {"type": "text", "align": "right", "baseline": "alphabetic", "font": "Liberation Serif", "fontStyle": "italic", "fontSize": 30, "color": "#1a1a1a"},
 "encoding": {"x": {"field": "k", "type": "quantitative"}, "y": {"field": "v", "type": "quantitative"}, "text": {"field": "t"}}}
]
}
